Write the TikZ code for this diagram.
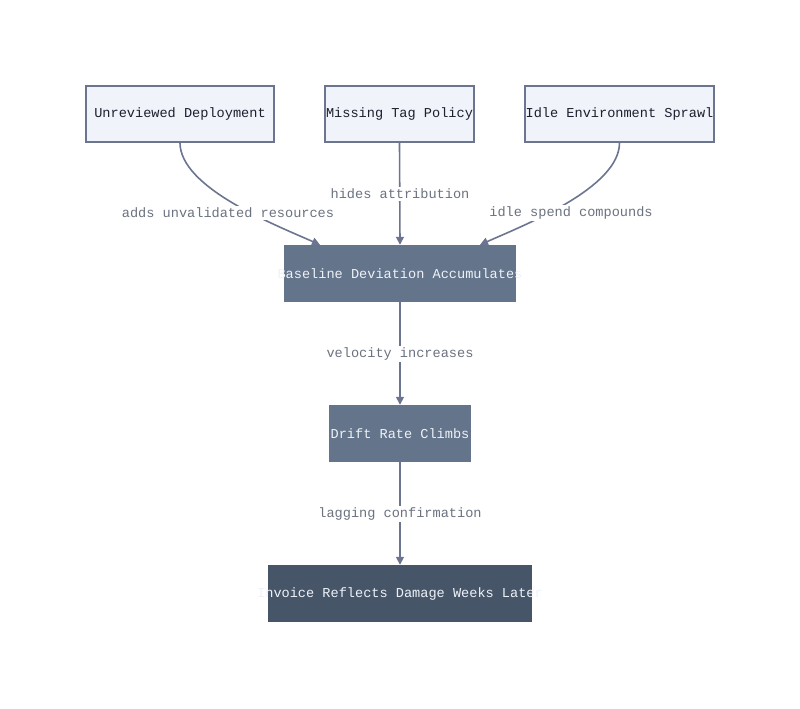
\documentclass[tikz,border=0pt]{standalone}
\usepackage{fontspec}
\setmonofont{Liberation Mono}
\usetikzlibrary{arrows.meta}
\definecolor{edgegray}{HTML}{6B7590}
\definecolor{lightfill}{HTML}{F0F3F9}
\definecolor{midslate}{HTML}{64748B}
\definecolor{darkslate}{HTML}{475569}
\definecolor{labelgray}{HTML}{6B7280}
\definecolor{inktext}{HTML}{1E1E2E}
\definecolor{paletext}{HTML}{EEF2F8}
\tikzset{
  cause/.style={draw=edgegray, fill=lightfill, line width=1.5pt, text=inktext, minimum height=56pt, inner sep=0pt},
  effect/.style={fill=midslate, text=paletext, minimum height=57pt, inner sep=0pt},
  outcome/.style={fill=darkslate, text=paletext, minimum height=57pt, inner sep=0pt},
  link/.style={draw=edgegray, line width=1.6pt, -{Triangle[length=8pt,width=8pt]}},
  tag/.style={fill=white, text=labelgray, inner sep=1.5pt}
}
\begin{document}
\begin{tikzpicture}[x=1pt, y=-1pt, font=\ttfamily\fontsize{13.6}{16}\selectfont]
  \useasboundingbox (0,0) rectangle (800,709);
  \node[cause, minimum width=188pt] (deploy) at (180,114) {\makebox[0pt]{Unreviewed Deployment}};
  \node[cause, minimum width=149pt] (tags) at (399.5,114) {\makebox[0pt]{Missing Tag Policy}};
  \node[cause, minimum width=189pt] (sprawl) at (619.5,114) {\makebox[0pt]{Idle Environment Sprawl}};
  \node[effect, minimum width=232pt] (baseline) at (400,273.5) {\makebox[0pt]{Baseline Deviation Accumulates}};
  \node[effect, minimum width=142pt] (drift) at (400,433.5) {\makebox[0pt]{Drift Rate Climbs}};
  \node[outcome, minimum width=264pt] (invoice) at (400,593.5) {\makebox[0pt]{Invoice Reflects Damage Weeks Later}};

  \draw[link] (deploy.south) .. controls +(0,45) and +(-45,-20) .. ([xshift=-80pt]baseline.north);
  \draw[link] (tags.south) -- (baseline.north);
  \draw[link] (sprawl.south) .. controls +(0,45) and +(45,-20) .. ([xshift=80pt]baseline.north);
  \draw[link] (baseline.south) -- (drift.north);
  \draw[link] (drift.south) -- (invoice.north);

  \node[tag] (addslbl) at (228,213) {adds unvalidated resources};
  \node[tag] (hideslbl) at (400,194) {hides attribution};
  \node[tag] (idlelbl) at (571,213) {idle spend compounds};
  \node[tag] (velolbl) at (400,354) {velocity increases};
  \node[tag] (laglbl) at (400,514) {lagging confirmation};
\end{tikzpicture}
\end{document}
